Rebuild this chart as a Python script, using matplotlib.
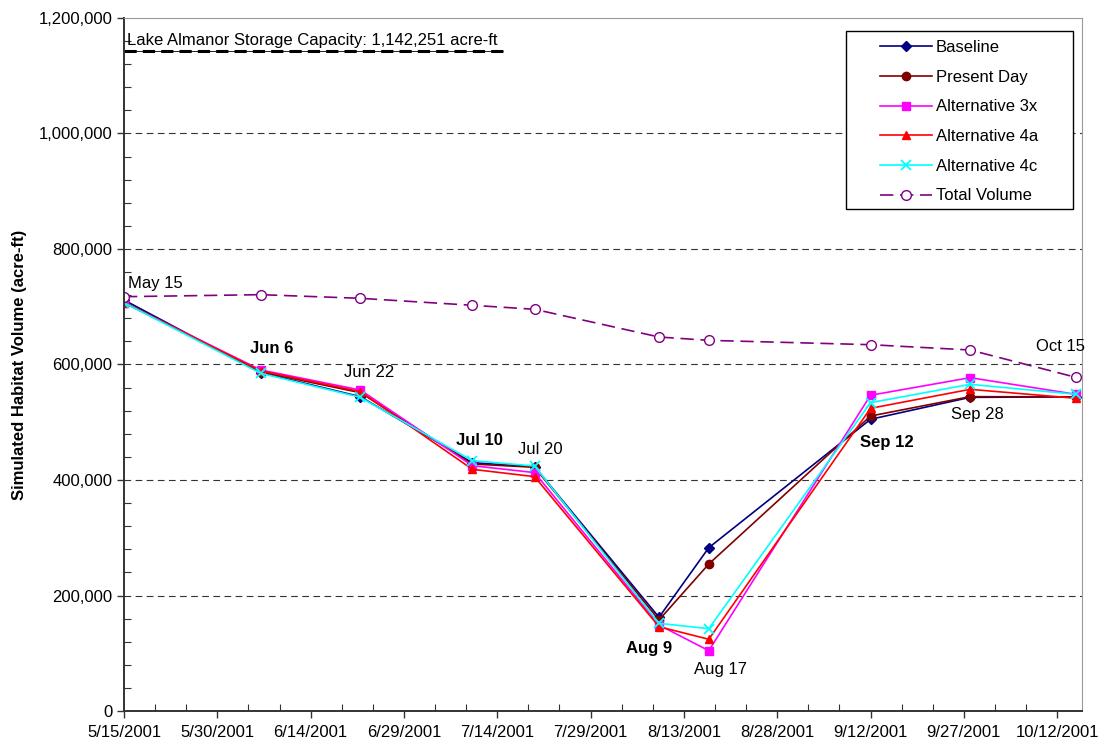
#habitat_volume.py: simulated habitat volume for each alternative, Lake Almanor 2001

import pandas as pd
import matplotlib.pyplot as plt
import matplotlib.dates as mdates
from matplotlib.patches import Rectangle
from matplotlib.ticker import FuncFormatter, MultipleLocator

plt.rcParams['font.family'] = ['Liberation Sans', 'DejaVu Sans']

#survey dates and labels
dates = pd.to_datetime(["2001-05-15", "2001-06-06", "2001-06-22", "2001-07-10", "2001-07-20",
                        "2001-08-09", "2001-08-17", "2001-09-12", "2001-09-28", "2001-10-15"])
date_labels = ["May 15", "Jun 6", "Jun 22", "Jul 10", "Jul 20",
               "Aug 9", "Aug 17", "Sep 12", "Sep 28", "Oct 15"]
bold_labels = ["Jun 6", "Jul 10", "Aug 9", "Sep 12"]

#habitat volume (acre-ft)
baseline = [711700, 585800, 544300, 430000, 423100, 162300, 282800, 505100, 543100, 544000]
present_day = [708000, 587000, 551200, 427700, 422000, 157600, 254500, 510800, 544300, 544000]
alt_3x = [707000, 590500, 555800, 424800, 412800, 148900, 104500, 546700, 577200, 548400]
alt_4a = [707000, 589000, 553000, 418500, 405800, 146000, 124200, 524100, 557000, 541500]
alt_4c = [707000, 584700, 543100, 433400, 424200, 151800, 142600, 533900, 565700, 548400]
total_volume = [717400, 720900, 714600, 702500, 695600, 647600, 641800, 634300, 625100, 577800]

capacity = 1142251

fig = plt.figure(figsize=(11.02, 7.46), dpi=100)
ax = fig.add_axes([0.1125, 0.0469, 0.8694, 0.929])

ax.plot(dates, baseline, color="#000080", marker="D", markersize=5, lw=1.2, label="Baseline")
ax.plot(dates, present_day, color="#800000", marker="o", markersize=6, lw=1.2, label="Present Day")
ax.plot(dates, alt_3x, color="#FF00FF", marker="s", markersize=6, lw=1.2, label="Alternative 3x")
ax.plot(dates, alt_4a, color="#FF0000", marker="^", markersize=6, lw=1.2, label="Alternative 4a")
ax.plot(dates, alt_4c, color="#00FFFF", marker="x", markersize=7, mew=1.3, lw=1.2, label="Alternative 4c")
ax.plot(dates, total_volume, color="#800080", marker="o", markersize=7, mfc="white", mew=1.0,
        lw=1.2, dashes=(8, 4), label="Total Volume")

#storage capacity line
cap_end = pd.Timestamp("2001-07-15")
ax.hlines(capacity, dates[0], cap_end, color="black", lw=0.6, zorder=1)
ax.hlines(capacity, dates[0], cap_end, color="black", lw=2.2, linestyles=(0, (4, 2)), zorder=1)
ax.annotate("Lake Almanor Storage Capacity: 1,142,251 acre-ft", (dates[0], capacity),
            xytext=(3, 3), textcoords="offset pixels", ha="left", va="bottom", fontsize=12)

#date callouts, offsets in pixels from the baseline point (or total volume)
offsets = {"May 15": (4, 13, total_volume), "Jun 6": (11, 24, baseline), "Jun 22": (9, 24, baseline),
           "Jul 10": (7, 22, baseline), "Jul 20": (6, 17, baseline), "Aug 9": (-10, -31, baseline),
           "Aug 17": (12, -19, alt_3x), "Sep 12": (16, -23, baseline), "Sep 28": (7, -17, baseline),
           "Oct 15": (-15, 31, total_volume)}
for i, lab in enumerate(date_labels):
    dx, dy, ser = offsets[lab]
    ha = "left" if lab == "May 15" else "center"
    ax.annotate(lab, (dates[i], ser[i]), xytext=(dx, dy), textcoords="offset pixels",
                ha=ha, va="center", fontsize=12,
                fontweight="bold" if lab in bold_labels else "normal")

#axes
ax.set_xlim(pd.Timestamp("2001-05-15"), pd.Timestamp("2001-10-16"))
ax.set_ylim(0, 1200000)
ax.set_xticks(pd.date_range("2001-05-15", "2001-10-12", freq="15D"))
ax.set_xticks(pd.date_range("2001-05-15", "2001-10-16", freq="5D"), minor=True)
ax.xaxis.set_major_formatter(FuncFormatter(lambda v, p: "{d.month}/{d.day}/{d.year}".format(d=mdates.num2date(v))))
ax.yaxis.set_major_locator(MultipleLocator(200000))
ax.yaxis.set_minor_locator(MultipleLocator(40000))
ax.yaxis.set_major_formatter(FuncFormatter(lambda v, p: f"{int(v):,}"))
ax.tick_params(axis="both", which="major", direction="out", length=5, width=1, labelsize=12, color="#333333")
ax.tick_params(axis="both", which="minor", direction="in", length=5, width=0.8, color="#333333")
ax.tick_params(axis="x", which="major", pad=5)

for y in range(200000, 1200000, 200000):
    ax.axhline(y, color="#333333", lw=0.8, dashes=(6, 4), zorder=0)

ax.spines["left"].set_color("#333333")
ax.spines["bottom"].set_color("#333333")
ax.spines["left"].set_linewidth(1.4)
ax.spines["bottom"].set_linewidth(1.4)
ax.spines["top"].set_color("#999999")
ax.spines["right"].set_color("#999999")

ax.set_ylabel("Simulated Habitat Volume (acre-ft)", fontsize=12, fontweight="bold", labelpad=8)

#legend with a wider box drawn by hand
ax.add_patch(Rectangle((0.7537, 0.724), 0.2369, 0.257, transform=ax.transAxes,
                       facecolor="white", edgecolor="black", lw=1.0, zorder=4))
leg = ax.legend(loc="upper left", bbox_to_anchor=(0.789, 0.968), fontsize=12, frameon=False,
                handlelength=3.1, labelspacing=0.88, borderpad=0.0, borderaxespad=0.0,
                handletextpad=0.25)
leg.set_zorder(5)

plt.savefig("out.png", dpi=100)
